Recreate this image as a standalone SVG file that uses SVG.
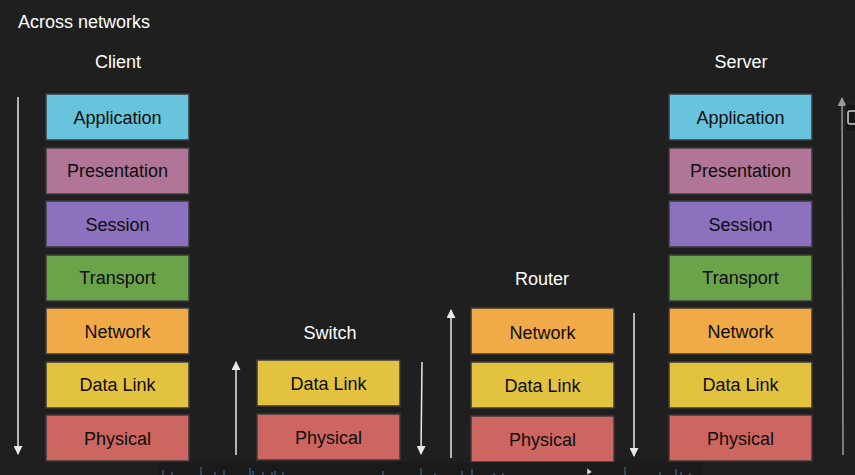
<svg xmlns="http://www.w3.org/2000/svg" width="855" height="475" viewBox="0 0 855 475">
<defs>
<style>
text{font-family:"Liberation Sans",Arial,sans-serif;font-size:18px}
.t{fill:#ffffff}
.l{fill:#0d0d0d;text-anchor:middle}
.h{fill:#ffffff;text-anchor:middle}
rect.b{stroke:#3a3a3a;stroke-width:1.5}
.app{fill:#67c4dc}
.pre{fill:#b07597}
.ses{fill:#8b71be}
.tra{fill:#6ba34b}
.net{fill:#f0aa47}
.dl{fill:#e3c240}
.phy{fill:#cd6660}
.arr{stroke:#e8e8e8;stroke-width:1.5;fill:none}
.spk{stroke:#3b78b0;stroke-width:1}
</style>
<marker id="ah" viewBox="0 0 10 10" refX="9" refY="5" markerWidth="6" markerHeight="6" orient="auto">
<path d="M0,0 L10,5 L0,10 z" fill="#e8e8e8"/>
</marker>
<marker id="ahg" viewBox="0 0 10 10" refX="9" refY="5" markerWidth="6" markerHeight="6" orient="auto">
<path d="M0,0 L10,5 L0,10 z" fill="#9a9a9a"/>
</marker>
</defs>
<rect width="855" height="475" fill="#1f1f1f"/>
<text class="t" x="18" y="28">Across networks</text>

<g id="client">
<text class="h" x="118" y="68">Client</text>
<g id="client-application"><rect class="b app" x="46" y="94" width="143" height="46"/><text class="l" x="117.5" y="124">Application</text></g>
<g id="client-presentation"><rect class="b pre" x="46" y="148" width="143" height="46"/><text class="l" x="117.5" y="177">Presentation</text></g>
<g id="client-session"><rect class="b ses" x="46" y="201" width="143" height="46"/><text class="l" x="117.5" y="231">Session</text></g>
<g id="client-transport"><rect class="b tra" x="46" y="255" width="143" height="46"/><text class="l" x="117.5" y="284">Transport</text></g>
<g id="client-network"><rect class="b net" x="46" y="308" width="143" height="46"/><text class="l" x="117.5" y="338">Network</text></g>
<g id="client-datalink"><rect class="b dl" x="46" y="362" width="143" height="46"/><text class="l" x="117.5" y="391">Data Link</text></g>
<g id="client-physical"><rect class="b phy" x="46" y="415" width="143" height="46"/><text class="l" x="117.5" y="445">Physical</text></g>
</g>

<g id="switch">
<text class="h" x="330" y="339">Switch</text>
<g id="switch-datalink"><rect class="b dl" x="257" y="360" width="143" height="46"/><text class="l" x="328.5" y="390">Data Link</text></g>
<g id="switch-physical"><rect class="b phy" x="257" y="414" width="143" height="46"/><text class="l" x="328.5" y="444">Physical</text></g>
</g>

<g id="router">
<text class="h" x="542" y="285">Router</text>
<g id="router-network"><rect class="b net" x="471" y="308" width="143" height="46"/><text class="l" x="542.5" y="339">Network</text></g>
<g id="router-datalink"><rect class="b dl" x="471" y="362" width="143" height="46"/><text class="l" x="542.5" y="392">Data Link</text></g>
<g id="router-physical"><rect class="b phy" x="471" y="416" width="143" height="46"/><text class="l" x="542.5" y="446">Physical</text></g>
</g>

<g id="server">
<text class="h" x="741" y="68">Server</text>
<g id="server-application"><rect class="b app" x="669" y="94" width="143" height="46"/><text class="l" x="740.5" y="124">Application</text></g>
<g id="server-presentation"><rect class="b pre" x="669" y="148" width="143" height="46"/><text class="l" x="740.5" y="177">Presentation</text></g>
<g id="server-session"><rect class="b ses" x="669" y="201" width="143" height="46"/><text class="l" x="740.5" y="231">Session</text></g>
<g id="server-transport"><rect class="b tra" x="669" y="255" width="143" height="46"/><text class="l" x="740.5" y="284">Transport</text></g>
<g id="server-network"><rect class="b net" x="669" y="308" width="143" height="46"/><text class="l" x="740.5" y="338">Network</text></g>
<g id="server-datalink"><rect class="b dl" x="669" y="362" width="143" height="46"/><text class="l" x="740.5" y="391">Data Link</text></g>
<g id="server-physical"><rect class="b phy" x="669" y="415" width="143" height="46"/><text class="l" x="740.5" y="445">Physical</text></g>
</g>

<g id="connectors">
<line class="arr" x1="18" y1="97" x2="18" y2="454" marker-end="url(#ah)"/>
<line class="arr" x1="236" y1="455" x2="236" y2="362" marker-end="url(#ah)"/>
<line class="arr" x1="422" y1="362" x2="421" y2="454" marker-end="url(#ah)"/>
<line class="arr" x1="451" y1="458" x2="451" y2="310" marker-end="url(#ah)"/>
<line class="arr" x1="634" y1="313" x2="634" y2="456" marker-end="url(#ah)"/>
<line x1="843" y1="455" x2="842" y2="98" stroke="#9a9a9a" stroke-width="1.5" marker-end="url(#ahg)"/>
</g>

<g id="overlay">
<rect x="845" y="104" width="12" height="28" rx="3" fill="#161616" stroke="#2c2c2c"/>
<rect x="848" y="111" width="9" height="13" rx="2" fill="none" stroke="#cfcfcf" stroke-width="1.5"/>
<rect x="157" y="462" width="545" height="13" fill="#1b1b1b"/>
<path class="spk" d="M163,475v-5 M172,475v-3 M201,475v-8 M215,475v-3 M224,475v-5 M250,475v-7 M253,475v-4 M263,475v-3 M272,475v-3 M275,475v-4 M283,475v-3 M383,475v-4 M421,475v-7 M435,475v-2 M462,475v-4 M472,475v-6 M494,475v-2 M503,475v-2 M625,475v-8 M660,475v-3 M676,475v-6 M681,475v-3 M690,475v-2"/>
<path d="M587,468 l0,7 l5,-3 z" fill="#dddddd" stroke="#222" stroke-width="0.5"/>
</g>
</svg>
